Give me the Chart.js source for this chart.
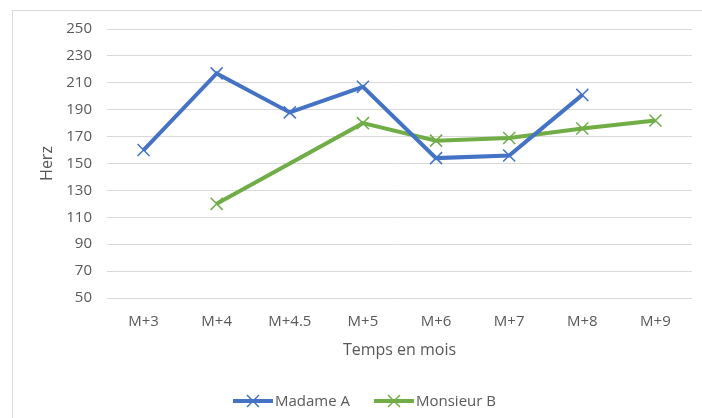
<!DOCTYPE html>
<html>
<head>
<meta charset="utf-8">
<script src="https://cdn.jsdelivr.net/npm/chart.js@4/dist/chart.umd.min.js"></script>
<style>
  html, body { margin: 0; padding: 0; background: #fff; }
  #wrap { position: relative; width: 702px; height: 418px; overflow: hidden; }
  #c { position: absolute; left: 0; top: 0; }
  #legend { position: absolute; left: 0; top: 390px; width: 702px; height: 22px; font-family: "Open Sans", sans-serif; font-size: 15px; color: #595959; }
  .item { position: absolute; top: 0; height: 22px; line-height: 20px; white-space: nowrap; }
  .item svg { position: absolute; left: 0; top: 1px; }
  .item span { position: absolute; left: 43px; top: 0; }
</style>
</head>
<body>
<div id="wrap">
  <canvas id="c" width="702" height="418"></canvas>
  <div id="legend"></div>
</div>
<script>
const categories = ["M+3", "M+4", "M+4.5", "M+5", "M+6", "M+7", "M+8", "M+9"];
const madameA = [160, 217, 188, 207, 154, 156, 201, null];
const monsieurB = [null, 120, null, 180, 167, 169, 176, 182];
const seriesNames = ["Madame A", "Monsieur B"];
const seriesColors = ["#4472C4", "#70AD47"];
const yTicks = { min: 50, max: 250, step: 20 };
const xTitle = "Temps en mois";
const yTitle = "Herz";

const textColor = "#595959";
const gridColor = "#D9D9D9";
const fontFamily = "'Open Sans', sans-serif";

const framePlugin = {
  id: 'frame',
  beforeDraw(chart) {
    const ctx = chart.ctx;
    ctx.save();
    ctx.fillStyle = '#ffffff';
    ctx.fillRect(0, 0, chart.width, chart.height);
    ctx.strokeStyle = gridColor;
    ctx.lineWidth = 1;
    ctx.strokeRect(12.5, 10.5, 1000, 1000);
    ctx.restore();
  }
};

function makeDataset(name, values, color, spanGaps) {
  return {
    label: name,
    data: values,
    borderColor: color,
    backgroundColor: color,
    borderWidth: 4,
    pointStyle: 'crossRot',
    pointRadius: 8.5,
    pointHoverRadius: 8.5,
    pointBorderWidth: 1.5,
    pointBorderColor: color,
    pointBackgroundColor: color,
    tension: 0,
    spanGaps: spanGaps,
    fill: false
  };
}

const chart = new Chart(document.getElementById('c'), {
  type: 'line',
  data: {
    labels: categories,
    datasets: [
      makeDataset(seriesNames[0], madameA, seriesColors[0], false),
      makeDataset(seriesNames[1], monsieurB, seriesColors[1], true)
    ]
  },
  options: {
    responsive: false,
    animation: false,
    devicePixelRatio: 1,
    layout: { padding: { left: 34, right: 9, top: 29, bottom: 54 } },
    plugins: {
      legend: { display: false },
      tooltip: { enabled: false }
    },
    scales: {
      x: {
        offset: true,
        grid: { display: false, drawTicks: false },
        border: { display: false },
        ticks: { color: textColor, font: { family: fontFamily, size: 15 }, padding: 15, maxRotation: 0, autoSkip: false },
        title: { display: true, text: xTitle, color: textColor, font: { family: fontFamily, size: 16 }, padding: { top: 10, bottom: 4 } },
        afterFit(scale) { scale.height = 66; }
      },
      y: {
        min: yTicks.min,
        max: yTicks.max,
        ticks: { stepSize: yTicks.step, color: textColor, font: { family: fontFamily, size: 15 }, padding: 15 },
        grid: { color: gridColor, lineWidth: 1, drawTicks: false },
        border: { display: false },
        title: { display: true, text: yTitle, color: textColor, font: { family: fontFamily, size: 16 }, padding: { top: 4, bottom: 4 } },
        afterFit(scale) { scale.width = 73; }
      }
    }
  },
  plugins: [framePlugin]
});

// Legend (HTML text) with line + cross marker
const legend = document.getElementById('legend');
const legendX = [232, 373];
seriesNames.forEach((name, i) => {
  const item = document.createElement('div');
  item.className = 'item';
  item.style.left = legendX[i] + 'px';
  const c = seriesColors[i];
  item.innerHTML =
    '<svg width="42" height="20" viewBox="0 0 42 20">' +
    '<line x1="1" y1="10" x2="41" y2="10" stroke="' + c + '" stroke-width="4"/>' +
    '<line x1="15" y1="4" x2="27" y2="16" stroke="' + c + '" stroke-width="1.5"/>' +
    '<line x1="27" y1="4" x2="15" y2="16" stroke="' + c + '" stroke-width="1.5"/>' +
    '</svg><span>' + name + '</span>';
  legend.appendChild(item);
});
</script>
</body>
</html>
